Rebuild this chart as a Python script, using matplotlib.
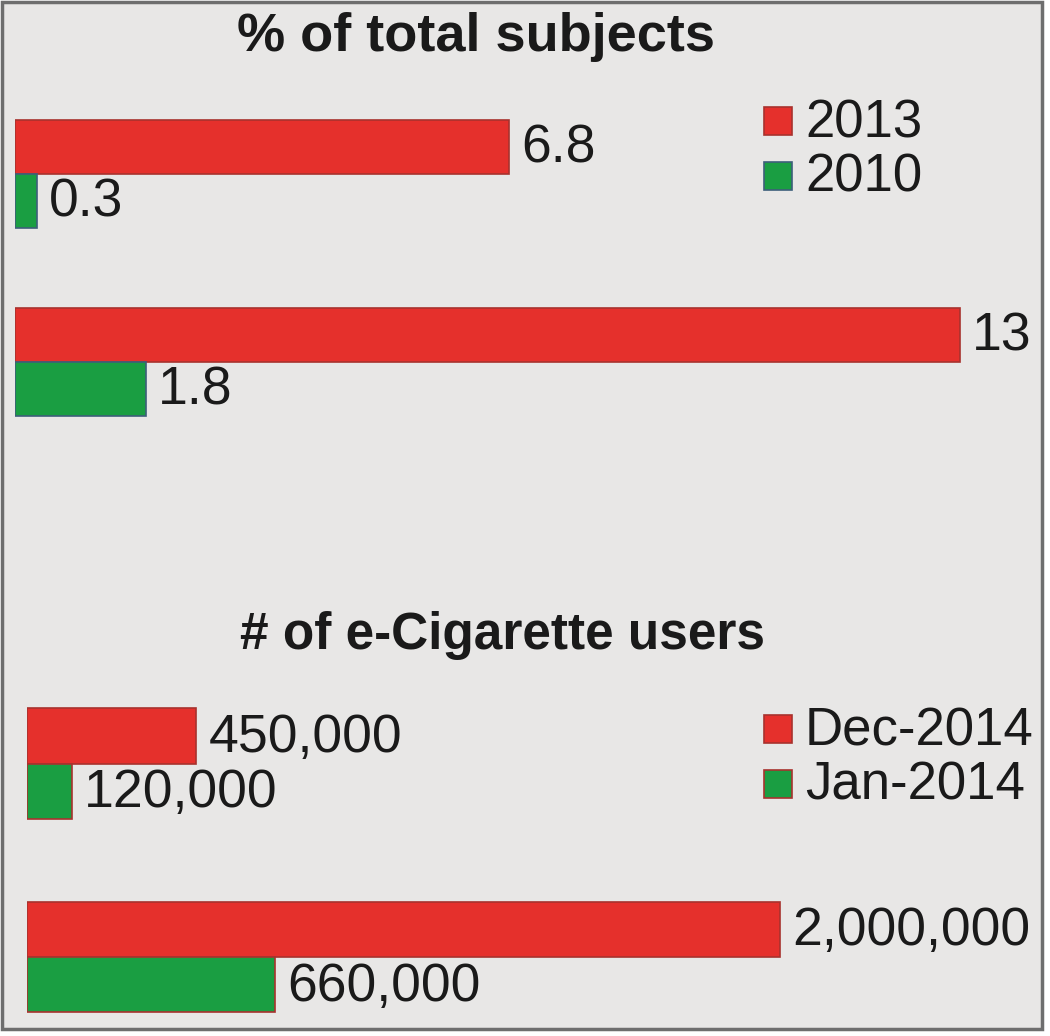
import matplotlib.pyplot as plt
from matplotlib.patches import Rectangle

plt.rcParams['font.family'] = ['Liberation Sans', 'DejaVu Sans']

# top panel: % of total subjects
pct_series = ['2013', '2010']
pct_2013 = [6.8, 13]
pct_2010 = [0.3, 1.8]

# bottom panel: # of e-cigarette users
users_series = ['Dec-2014', 'Jan-2014']
users_dec = [450000, 2000000]
users_jan = [120000, 660000]

RED = '#e5302c'
GREEN = '#1a9e42'
BG = '#e8e7e6'

W, H = 1050, 1036
fig = plt.figure(figsize=(W / 100, H / 100), dpi=100)
fig.patch.set_facecolor('white')

# gray panel with frame
fig.patches.append(Rectangle((2 / W, 1 - 1029 / H), 1040 / W, 1027 / H,
                             transform=fig.transFigure, facecolor=BG,
                             edgecolor='#6e6e6e', linewidth=2.5, zorder=-10))


def px_axes(x0, y0, x1, y1):
    ax = fig.add_axes([x0 / W, 1 - y1 / H, (x1 - x0) / W, (y1 - y0) / H])
    ax.set_zorder(2)
    return ax


def panel(ax, a, b, labels, fmt, green_edge, scale, title, title_x, title_y,
          title_size, leg_y):
    ax.set_axis_off()
    h = 0.287
    ys = range(len(a))
    ax.barh([y - h / 2 for y in ys], a, height=h, color=RED,
            edgecolor='#a8322e', linewidth=1.2)
    ax.barh([y + h / 2 for y in ys], b, height=h, color=GREEN,
            edgecolor=green_edge, linewidth=1.2)
    for y, v in zip(ys, a):
        ax.text(v + 12 * scale, y - h / 2 + 0.01, fmt(v), va='center',
                ha='left', fontsize=38.5, color='#1a1a1a', clip_on=False)
    for y, v in zip(ys, b):
        ax.text(v + 12 * scale, y + h / 2 + 0.01, fmt(v), va='center',
                ha='left', fontsize=38.5, color='#1a1a1a', clip_on=False)
    fig.text(title_x / W, 1 - title_y / H, title, ha='center', va='center',
             fontsize=title_size, fontweight='bold', color='#1a1a1a')
    # legend
    for i, (lab, col, ec) in enumerate(zip(labels, [RED, GREEN],
                                           ['#a8322e', green_edge])):
        yy = leg_y + i * 55
        fig.patches.append(Rectangle((764 / W, 1 - (yy + 14) / H), 28 / W,
                                     28 / H, transform=fig.transFigure,
                                     facecolor=col, edgecolor=ec, linewidth=1.2,
                                     zorder=3))
        fig.text(805 / W, 1 - (yy + 2) / H, lab, ha='left', va='center',
                 fontsize=38, color='#1a1a1a')


# top: 13 units -> 945 px
ax1 = px_axes(15, 80, 1050, 456)
ax1.set_xlim(0, 1035 / 72.7)
ax1.set_ylim(1.5, -0.5)
panel(ax1, pct_2013, pct_2010, pct_series, lambda v: f'{v:g}', '#3d5f7a',
      1 / 72.7, '% of total subjects', 476, 37, 39, 121)

# bottom: 2,000,000 -> 753 px
ax2 = px_axes(27, 667, 1050, 1015)
ax2.set_xlim(0, 1023 / 376.5e-6)
ax2.set_ylim(1.3, -0.5)
panel(ax2, users_dec, users_jan, users_series, lambda v: f'{v:,}', '#a8322e',
      1 / 376.5e-6, '# of e-Cigarette users', 503, 636, 37, 729)

fig.savefig('out.png', dpi=100, facecolor=fig.get_facecolor())
